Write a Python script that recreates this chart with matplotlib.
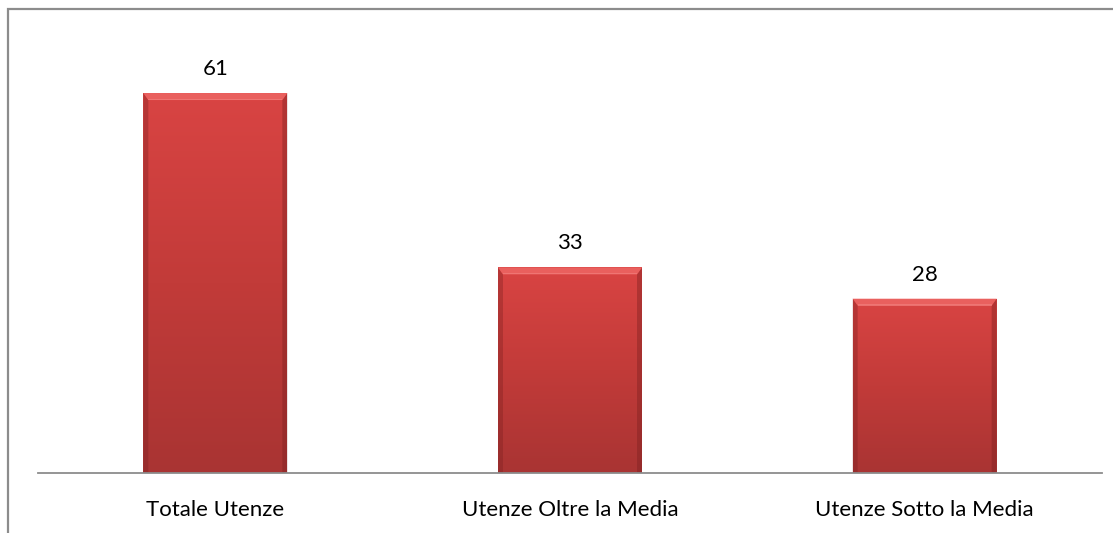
import matplotlib
matplotlib.use("Agg")
import matplotlib.pyplot as plt
import numpy as np
from matplotlib.patches import Rectangle, Polygon
from matplotlib.colors import LinearSegmentedColormap

categories = ["Totale Utenze", "Utenze Oltre la Media", "Utenze Sotto la Media"]
values = [61, 33, 28]

plt.rcParams['font.family'] = ['Lato', 'DejaVu Sans']

W, H = 1113, 533
fig = plt.figure(figsize=(W / 100, H / 100), dpi=100)

# outer chart border (extends beyond right/bottom edge)
fig.patches.append(Rectangle((8 / W, -0.05), 1.2, (H - 9) / H + 0.05,
                             transform=fig.transFigure, fill=False,
                             edgecolor='#8c8c8c', linewidth=1.6))

ax_left, ax_right = 38 / W, 1102 / W
base_y = 473
top_y = 37
ax = fig.add_axes([ax_left, (H - base_y) / H, ax_right - ax_left, (base_y - top_y) / H])
ax.set_xlim(-0.5, 2.5)
ax.set_ylim(0, 70)

# pixel -> data unit helpers
px_x = 3.0 / (1102 - 38)
px_y = 70.0 / (base_y - top_y)

x = np.arange(len(categories))
bars = ax.bar(x, values, width=0.406, color='#c83c3a', edgecolor='none', zorder=2)

cmap = LinearSegmentedColormap.from_list('redgrad', ['#a93433', '#c23b39', '#d94443'])
grad = np.linspace(0, 1, 256).reshape(-1, 1)
for b, v in zip(bars, values):
    x0, w, h = b.get_x(), b.get_width(), b.get_height()
    im = ax.imshow(grad, extent=(x0, x0 + w, 0, h), origin='lower', cmap=cmap,
                   aspect='auto', zorder=3)
    im.set_clip_path(b)
    ex = 5 * px_x
    ey = 7 * px_y
    # left dark side
    ax.add_patch(Polygon([(x0, 0), (x0 + ex, 0), (x0 + ex, h - ey), (x0, h)],
                         closed=True, facecolor='#7a1f1f', edgecolor='none', alpha=0.35, zorder=4))
    # right dark side
    ax.add_patch(Polygon([(x0 + w, 0), (x0 + w - ex, 0), (x0 + w - ex, h - ey), (x0 + w, h)],
                         closed=True, facecolor='#7a1f1f', edgecolor='none', alpha=0.4, zorder=4))
    # top bevel highlight
    ax.add_patch(Polygon([(x0, h), (x0 + w, h), (x0 + w - ex, h - ey), (x0 + ex, h - ey)],
                         closed=True, facecolor='#f06a68', edgecolor='none', alpha=0.75, zorder=5))
    ax.add_patch(Rectangle((x0 + ex, h - ey), w - 2 * ex, 1.5 * px_y,
                           facecolor='#f58a88', edgecolor='none', alpha=0.5, zorder=5))
    ax.annotate(f"{v}", xy=(x0 + w / 2, h), xytext=(0, 24), textcoords='offset pixels',
                ha='center', va='center', fontsize=16, color='#000000')

for s in ['top', 'right', 'left']:
    ax.spines[s].set_visible(False)
ax.spines['bottom'].set_color('#8c8c8c')
ax.spines['bottom'].set_linewidth(1.3)
ax.spines['bottom'].set_zorder(6)
ax.set_yticks([])
ax.set_xticks([])
for xi, c in zip(x, categories):
    ax.annotate(c, xy=(xi, 0), xycoords=('data', 'axes fraction'), xytext=(0, -37),
                textcoords='offset pixels', ha='center', va='center', fontsize=16,
                color='#000000', annotation_clip=False)

fig.savefig('out.png', dpi=100)
